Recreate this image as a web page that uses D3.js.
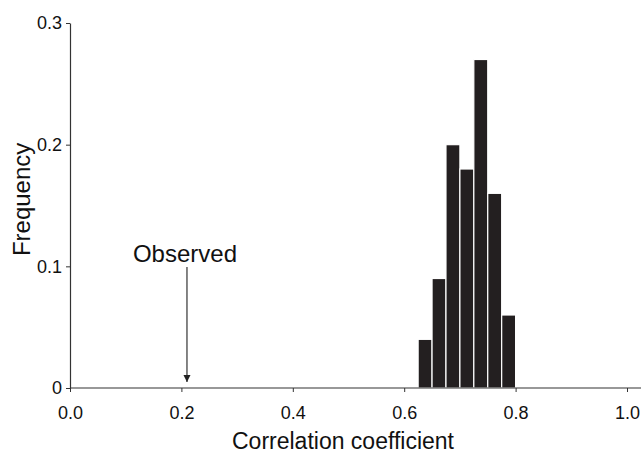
<!DOCTYPE html>
<html>
<head>
<meta charset="utf-8">
<script src="https://cdn.jsdelivr.net/npm/d3@7"></script>
<style>
  body { margin: 0; background: #fff; }
  svg { display: block; font-family: "Liberation Sans", Arial, sans-serif; }
</style>
</head>
<body>
<div id="chart"></div>
<script>
// Histogram of permuted correlation coefficients, with the observed value marked
const binStarts = [0.625, 0.65, 0.675, 0.7, 0.725, 0.75, 0.775];
const binWidth = 0.025;
const frequencies = [0.04, 0.09, 0.2, 0.18, 0.27, 0.16, 0.06];
const xTicks = [0.0, 0.2, 0.4, 0.6, 0.8, 1.0];
const yTicks = [0, 0.1, 0.2, 0.3];
const observed = 0.21;

const width = 642;
const height = 455;
const margin = { top: 23, right: 2, bottom: 67, left: 70 };

const x = d3.scaleLinear().domain([0, 1]).range([margin.left, 627]);
const y = d3.scaleLinear().domain([0, 0.3]).range([height - margin.bottom, margin.top]);

const svg = d3.select("#chart").append("svg")
  .attr("width", width)
  .attr("height", height);

// Bars
svg.append("g")
  .selectAll("rect")
  .data(binStarts)
  .join("rect")
  .attr("x", (d) => x(d))
  .attr("y", (d, i) => y(frequencies[i]))
  .attr("width", (d) => x(d + binWidth) - x(d))
  .attr("height", (d, i) => y(0) - y(frequencies[i]))
  .attr("fill", "#231f20")
  .attr("stroke", "#fff")
  .attr("stroke-width", 1.2);

// X axis (line runs past 1.0 to the edge)
const xAxis = svg.append("g")
  .attr("transform", `translate(0, ${y(0)})`)
  .call(d3.axisBottom(x).tickValues(xTicks).tickFormat(d3.format(".1f")).tickSize(4).tickSizeOuter(0));
xAxis.select(".domain").remove();
xAxis.append("line")
  .attr("x1", x(0))
  .attr("x2", width - 1)
  .attr("stroke", "#333")
  .attr("stroke-width", 1.2);
xAxis.selectAll(".tick line").attr("stroke", "#333");
xAxis.selectAll(".tick text")
  .attr("y", 18)
  .attr("font-size", 18)
  .attr("fill", "#111")
  .style("font-family", "Liberation Sans, Arial, sans-serif");

// Y axis
const yAxis = svg.append("g")
  .attr("transform", `translate(${x(0)}, 0)`)
  .call(d3.axisLeft(y).tickValues(yTicks).tickFormat((d) => (d === 0 ? "0" : d3.format(".1f")(d))).tickSize(4).tickSizeOuter(0));
yAxis.select(".domain").attr("stroke", "#333").attr("stroke-width", 1.2);
yAxis.selectAll(".tick line").attr("stroke", "#333");
yAxis.selectAll(".tick text")
  .attr("x", -8)
  .attr("font-size", 18)
  .attr("fill", "#111")
  .style("font-family", "Liberation Sans, Arial, sans-serif");

// Axis titles
svg.append("text")
  .attr("x", 343)
  .attr("y", 449)
  .attr("text-anchor", "middle")
  .attr("font-size", 23)
  .attr("fill", "#111")
  .text("Correlation coefficient");

svg.append("text")
  .attr("transform", `translate(30, ${y(0.155)}) rotate(-90)`)
  .attr("text-anchor", "middle")
  .attr("font-size", 24)
  .attr("fill", "#111")
  .text("Frequency");

// Observed marker
svg.append("defs").append("marker")
  .attr("id", "arrow")
  .attr("viewBox", "0 0 10 10")
  .attr("refX", 10)
  .attr("refY", 5)
  .attr("markerWidth", 7)
  .attr("markerHeight", 8)
  .attr("markerUnits", "userSpaceOnUse")
  .attr("orient", "auto")
  .append("path")
  .attr("d", "M0,0L10,5L0,10z")
  .attr("fill", "#222");

svg.append("line")
  .attr("x1", x(observed))
  .attr("x2", x(observed))
  .attr("y1", 267)
  .attr("y2", y(0) - 6)
  .attr("stroke", "#333")
  .attr("stroke-width", 1.2)
  .attr("marker-end", "url(#arrow)");

svg.append("text")
  .attr("x", x(observed) - 2)
  .attr("y", 262)
  .attr("text-anchor", "middle")
  .attr("font-size", 24)
  .attr("fill", "#111")
  .text("Observed");
</script>
</body>
</html>
